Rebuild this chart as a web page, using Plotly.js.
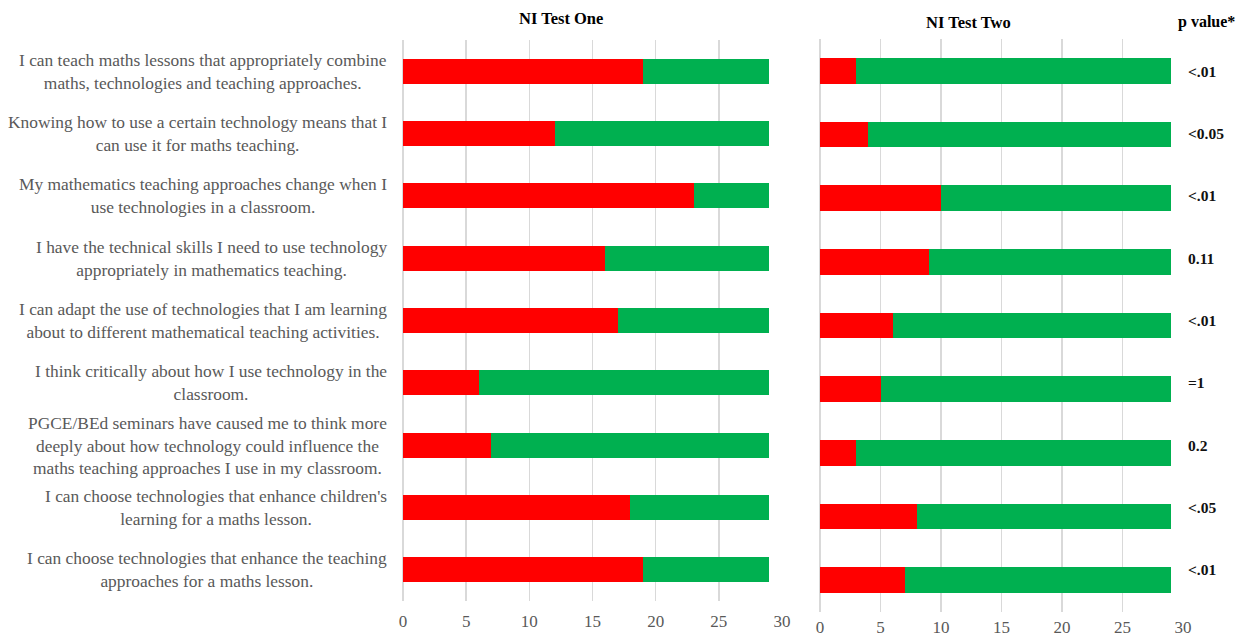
<!DOCTYPE html>
<html>
<head>
<meta charset="utf-8">
<script src="https://cdn.plot.ly/plotly-3.0.1.min.js"></script>
<style>html,body{margin:0;padding:0;background:#fff;}#chart{width:1241px;height:641px;}</style>
</head>
<body>
<div id="chart"></div>
<script>
const categories = [
  "I can teach maths lessons that appropriately combine<br>maths, technologies and teaching approaches.",
  "Knowing how to use a certain technology means that I<br>can use it for maths teaching.",
  "My mathematics teaching approaches change when I<br>use technologies in a classroom.",
  "I have the technical skills I need to use technology<br>appropriately in mathematics teaching.",
  "I can adapt the use of technologies that I am learning<br>about to different mathematical teaching activities.",
  "I think critically about how I use technology in the<br>classroom.",
  "PGCE/BEd seminars have caused me to think more<br>deeply about how technology could influence the<br>maths teaching approaches I use in my classroom.",
  "I can choose technologies that enhance children's<br>learning for a maths lesson.",
  "I can choose technologies that enhance the teaching<br>approaches for a maths lesson."
];
const test1Red   = [19, 12, 23, 16, 17, 6, 7, 18, 19];
const test1Green = [10, 17, 6, 13, 12, 23, 22, 11, 10];
const test2Red   = [3, 4, 10, 9, 6, 5, 3, 8, 7];
const test2Green = [26, 25, 19, 20, 23, 24, 26, 21, 22];
const pValues = ["<.01", "<0.05", "<.01", "0.11", "<.01", "=1", "0.2", "<.05", "<.01"];
const xTicks = [0, 5, 10, 15, 20, 25, 30];
const titles = ["NI Test One", "NI Test Two", "p value*"];

const ids = categories.map((c, i) => "c" + i);
const RED = "#FF0000", GREEN = "#00B050";
const serif = "Liberation Serif, DejaVu Serif, serif";

const traces = [
  {type: "bar", orientation: "h", y: ids, x: test1Red, xaxis: "x", yaxis: "y", marker: {color: RED}, width: 0.4, hoverinfo: "x"},
  {type: "bar", orientation: "h", y: ids, x: test1Green, xaxis: "x", yaxis: "y", marker: {color: GREEN}, width: 0.4, hoverinfo: "x"},
  {type: "bar", orientation: "h", y: ids, x: test2Red, xaxis: "x2", yaxis: "y2", marker: {color: RED}, width: 0.4, hoverinfo: "x"},
  {type: "bar", orientation: "h", y: ids, x: test2Green, xaxis: "x2", yaxis: "y2", marker: {color: GREEN}, width: 0.4, hoverinfo: "x"}
];

const xax = (dom, anchor, standoff) => ({
  domain: dom, anchor: anchor, range: [0, 30], tickvals: xTicks, ticktext: xTicks.map(String),
  showgrid: true, gridcolor: "#d9d9d9", gridwidth: 1.5, zeroline: true, zerolinecolor: "#d9d9d9", zerolinewidth: 1.5,
  showline: false, ticks: "", ticklabelstandoff: standoff, tickfont: {family: serif, size: 17, color: "#595959"}, fixedrange: true
});
const yax = (dom, anchor) => ({
  domain: dom, anchor: anchor, type: "category", categoryorder: "array", categoryarray: ids,
  autorange: "reversed", showticklabels: false, showgrid: false, zeroline: false, showline: false, ticks: "", fixedrange: true
});

const annotations = [];
categories.forEach((c, i) => {
  annotations.push({xref: "paper", yref: "y", x: 389 / 1241, y: ids[i], xanchor: "right", yanchor: "middle",
    text: c, align: "center", showarrow: false, font: {family: serif, size: 17.4, color: "#595959"}});
  annotations.push({xref: "paper", yref: "y", x: 1186 / 1241, y: ids[i], xanchor: "left", yanchor: "middle",
    text: "<b>" + pValues[i] + "</b>", showarrow: false, font: {family: serif, size: 15.5, color: "#111"}});
});
annotations.push({xref: "paper", yref: "paper", x: 561 / 1241, y: 1 - 18 / 641, xanchor: "center", yanchor: "middle",
  text: "<b>" + titles[0] + "</b>", showarrow: false, font: {family: serif, size: 16.5, color: "#000"}});
annotations.push({xref: "paper", yref: "paper", x: 968 / 1241, y: 1 - 22 / 641, xanchor: "center", yanchor: "middle",
  text: "<b>" + titles[1] + "</b>", showarrow: false, font: {family: serif, size: 16.5, color: "#000"}});
annotations.push({xref: "paper", yref: "paper", x: 1206 / 1241, y: 1 - 22 / 641, xanchor: "center", yanchor: "middle",
  text: "<b>" + titles[2] + "</b>", showarrow: false, font: {family: serif, size: 16, color: "#000"}});

const layout = {
  width: 1241, height: 641, margin: {l: 0, r: 0, t: 0, b: 0},
  paper_bgcolor: "#fff", plot_bgcolor: "rgba(0,0,0,0)",
  barmode: "stack", showlegend: false,
  xaxis: xax([403 / 1241, 782 / 1241], "y", 8),
  yaxis: yax([1 - 601 / 641, 1 - 40 / 641], "x"),
  xaxis2: xax([820 / 1241, 1183 / 1241], "y2", 3),
  yaxis2: yax([1 - 612 / 641, 1 - 39 / 641], "x2"),
  annotations: annotations
};

Plotly.newPlot("chart", traces, layout, {displayModeBar: false, staticPlot: true});
</script>
</body>
</html>
